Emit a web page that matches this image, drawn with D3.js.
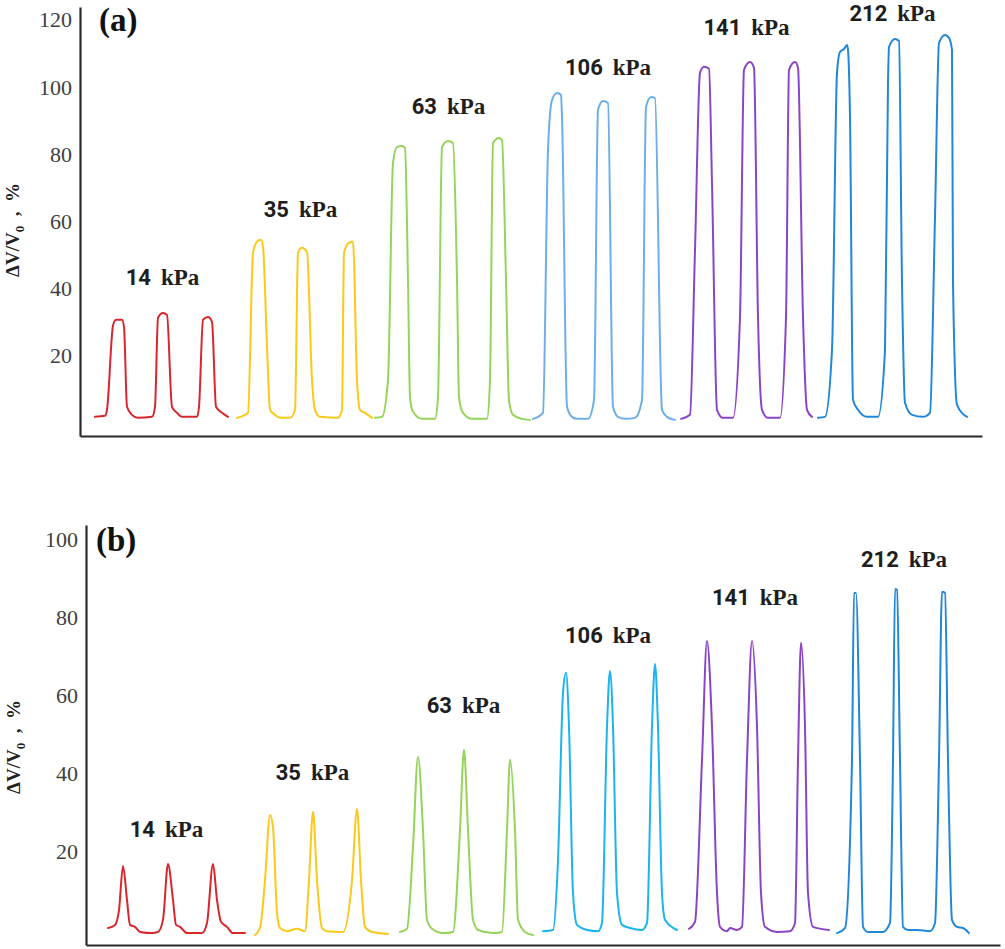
<!DOCTYPE html>
<html><head><meta charset="utf-8">
<script src="https://cdn.jsdelivr.net/npm/d3@7"></script>
<style>body{margin:0;background:#fff}svg{display:block}</style>
</head><body>
<svg id="chart" width="1005" height="949"></svg>
<script>
// ---------------- DATA ----------------
const pressures = ["14", "35", "63", "106", "141", "212"];
const yTicksA = [20, 40, 60, 80, 100, 120];
const yTicksB = [20, 40, 60, 80, 100];
const yLabelMain = "ΔV/V", yLabelSub = "0", yLabelTail = "  ,  %";
const panelTags = ["(a)", "(b)"];

// Panel (a): [time, ΔV/V0 %]
const a14 = [[15,1.8],[25,2.1],[27,3.9],[33,29],[36,30.7],[42,30.7],[44,28.6],[47,4.8],[52,2.4],[58,1.5],[72,1.8],[75,4.8],[78,31.3],[83,32.7],[87,32.1],[92,4.8],[97,3.0],[102,1.8],[117,1.8],[119,4.8],[123,30.7],[128,31.5],[132,30.1],[136,4.8],[142,3.0],[148,1.8]];
const a35 = [[157,1.5],[168,3.0],[173,50.6],[177,53.9],[181,54.5],[183,52.4],[187,22.6],[190,3.9],[195,2.4],[200,1.5],[210,1.5],[215,3.9],[218,50.6],[222,52.1],[227,50.9],[232,12.8],[235,3.9],[240,1.8],[258,1.5],[262,3.9],[264,50.6],[269,53.6],[273,53.9],[277,12.8],[280,3.9],[285,3.0],[292,1.5]];
const a63 = [[295,1.5],[302,1.8],[308,12.8],[313,77.4],[317,82.1],[322,82.4],[325,81.8],[328,42.6],[330,7.7],[333,3.3],[342,1.2],[355,1.2],[358,7.7],[362,82.1],[368,83.9],[373,83.3],[377,42.6],[379,7.7],[383,3.0],[392,1.2],[407,1.2],[410,12.8],[413,83.3],[419,84.8],[422,84.2],[426,42.6],[429,6.8],[433,2.4],[442,1.2],[450,0.9]];
const a106 = [[453,1.2],[463,3.0],[468,81.3],[472,96.1],[477,98.2],[481,97.6],[482,91.1],[487,4.8],[492,1.8],[497,1.2],[508,1.2],[514,6.8],[518,93.2],[523,95.8],[528,95.2],[533,4.8],[538,1.8],[545,1.2],[555,1.5],[562,6.8],[566,94.0],[571,97.0],[575,96.7],[582,3.9],[587,1.8],[595,0.9]];
const a141 = [[601,1.2],[610,2.4],[615,51.5],[620,104.2],[624,106],[629,105.4],[632,71.4],[637,3.9],[643,1.5],[653,1.5],[660,31.5],[664,105.1],[670,107.4],[674,105.7],[678,31.5],[682,3.9],[688,1.5],[700,1.5],[706,31.5],[709,105.1],[715,107.4],[718,105.7],[723,31.5],[727,3.9],[732,1.8]];
const a212 = [[738,1.5],[745,1.8],[752,21.7],[757,104.2],[760,110.4],[764,111.3],[767,112.5],[768,111.0],[770,91.1],[773,6.8],[778,3.9],[787,1.8],[798,1.8],[805,21.7],[808,101.2],[809,111.9],[815,114.3],[819,113.7],[822,41.7],[825,6.0],[832,2.4],[843,1.8],[850,3.0],[855,61.3],[859,113.1],[865,115.5],[869,114.6],[872,111.0],[873,41.7],[877,5.4],[887,1.8]];

// Panel (b)
const b14 = [[22,0.5],[29,1.3],[33,5.1],[37,16.4],[41,7.7],[44,1.3],[49,0.8],[54,-0.5],[66,-0.8],[72,-0.5],[77,2.6],[82,16.9],[87,7.7],[90,1.3],[94,0.8],[101,-0.8],[116,-0.8],[121,1.8],[127,16.9],[131,7.7],[135,2.1],[141,0.8],[147,-0.8],[159,-0.8]];
const b35 = [[169,-1.3],[174,0.5],[179,12.8],[184,29.5],[187,26.4],[191,4.4],[194,0.5],[201,-0.3],[211,0.3],[219,-0.3],[223,12.8],[227,30.3],[231,12.8],[236,0.5],[241,-0.3],[257,-0.5],[266,12.8],[271,31.0],[275,12.8],[279,0.8],[286,-0.5],[302,-1.0]];
const b63 = [[314,-0.5],[321,0.3],[327,21.3],[332,44.4],[337,25.6],[341,2.6],[346,0.3],[357,-0.8],[367,-0.5],[374,25.6],[378,46.2],[382,25.6],[387,2.6],[392,0],[407,-0.8],[416,-0.5],[421,25.6],[424,43.6],[429,25.6],[432,2.6],[439,-0.5],[447,-1.3]];
const b106 = [[457,-0.3],[467,0],[472,17.9],[477,60.8],[480,65.9],[483,52.1],[487,9.5],[491,1.3],[501,0],[512,-0.3],[516,1.8],[521,52.1],[524,66.4],[527,52.1],[531,9.5],[536,1.3],[544,0.5],[556,0],[561,1.8],[566,52.1],[569,68.2],[572,52.1],[576,9.5],[579,2.6],[591,0]];
const b141 = [[603,0.3],[609,2.1],[616,43.6],[621,74.1],[626,52.1],[631,9.5],[634,0.8],[641,-0.3],[644,0.5],[651,0],[656,0.8],[661,43.6],[666,74.1],[671,52.1],[675,9.5],[679,0.8],[691,-0.5],[704,-0.3],[709,1.8],[712,43.6],[715,73.6],[719,52.1],[722,9.5],[727,0.8],[743,0]];
const b212 = [[751,-0.8],[759,0.5],[766,43.6],[768,86.4],[770,86.4],[774,43.6],[777,0.8],[782,-0.5],[797,-0.5],[804,1.8],[807,43.6],[809,87.4],[811,87.2],[814,43.6],[817,0.8],[822,0],[831,0],[844,-0.3],[849,1.8],[853,43.6],[856,86.7],[859,86.4],[862,43.6],[866,2.6],[871,0.8],[877,0.5],[883,-0.8]];

// ---------------- LAYOUT / STYLE ----------------
const colorsA = ["#d8262d", "#fcc81a", "#95d45a", "#6cafe8", "#8a45c7", "#2187d8"];
const colorsB = ["#d8262d", "#fcc81a", "#95d45a", "#1bb3f0", "#8a45c7", "#2187d8"];

const panels = [
  { traces: [a14, a35, a63, a106, a141, a212], colors: colorsA, ticks: yTicksA, tag: panelTags[0],
    xDomain: [0, 902], xRange: [80, 982], yDomain: [-3.9, 123.8], yRange: [436, 7],
    tagPos: [99, 31], ylabPos: [19, 230],
    lblDx: [1, -4, -4, 4, 0, 0], lblDy: [28, 23, 24, 18, 27, 14] },
  { traces: [b14, b35, b63, b106, b141, b212], colors: colorsB, ticks: yTicksB, tag: panelTags[1],
    xDomain: [0, 914], xRange: [86, 1000], yDomain: [-3.85, 103.8], yRange: [945, 525],
    tagPos: [96, 551], ylabPos: [20, 747],
    lblDx: [-10, -9, -3, -2, -4, 1], lblDy: [27, 29, 37, 21, 36, 22] }
];

const svg = d3.select("#chart");

panels.forEach(p => {
  const x = d3.scaleLinear().domain(p.xDomain).range(p.xRange);
  const y = d3.scaleLinear().domain(p.yDomain).range(p.yRange);
  const g = svg.append("g");

  // y axis
  const ya = g.append("g").attr("transform", `translate(${p.xRange[0]},0)`)
    .call(d3.axisLeft(y).tickValues(p.ticks).tickSize(0).tickPadding(8));
  ya.select(".domain").attr("stroke", "#2a2a2a").attr("stroke-width", 2.2);
  ya.selectAll(".tick text").attr("font-family", "'Liberation Serif', 'Times New Roman', serif")
    .attr("font-size", 22).attr("fill", "#404040");

  // x axis
  const xa = g.append("g").attr("transform", `translate(0,${p.yRange[0]})`)
    .call(d3.axisBottom(x).tickValues([]).tickSizeOuter(0));
  xa.select(".domain").attr("stroke", "#2a2a2a").attr("stroke-width", 2.2);

  // traces
  const line = d3.line().x(d => x(d[0])).y(d => y(d[1])).curve(d3.curveMonotoneX);
  p.traces.forEach((tr, i) => {
    g.append("path").datum(tr).attr("d", line)
      .attr("fill", "none").attr("stroke", p.colors[i]).attr("stroke-width", 2)
      .attr("stroke-linejoin", "round").attr("stroke-linecap", "round");

    // pressure label
    const cx = x((tr[0][0] + tr[tr.length - 1][0]) / 2) + p.lblDx[i];
    const top = y(d3.max(tr, d => d[1])) - p.lblDy[i];
    const t = g.append("text").attr("x", cx).attr("y", top)
      .attr("text-anchor", "middle").attr("fill", "#1e1e1e").attr("font-weight", "bold");
    t.append("tspan").attr("font-family", "Roboto, 'Noto Sans', sans-serif").attr("font-size", 22)
      .text(pressures[i]);
    t.append("tspan").attr("dx", 10).attr("font-family", "'Liberation Serif', serif").attr("font-size", 23)
      .text("kPa");
  });

  // panel tag
  g.append("text").attr("x", p.tagPos[0]).attr("y", p.tagPos[1])
    .attr("font-family", "'Liberation Serif', serif").attr("font-weight", "bold")
    .attr("font-size", 33).attr("fill", "#111").text(p.tag);

  // y label
  const yl = g.append("text")
    .attr("transform", `translate(${p.ylabPos[0]},${p.ylabPos[1]}) rotate(-90)`)
    .attr("text-anchor", "middle").attr("font-family", "'Liberation Serif', serif")
    .attr("font-weight", "bold").attr("font-size", 19).attr("fill", "#222")
    .style("white-space", "pre");
  yl.append("tspan").text(yLabelMain);
  yl.append("tspan").attr("dy", 5).attr("font-size", 13).text(yLabelSub);
  yl.append("tspan").attr("dy", -5).text(yLabelTail);
});
</script>
</body></html>
